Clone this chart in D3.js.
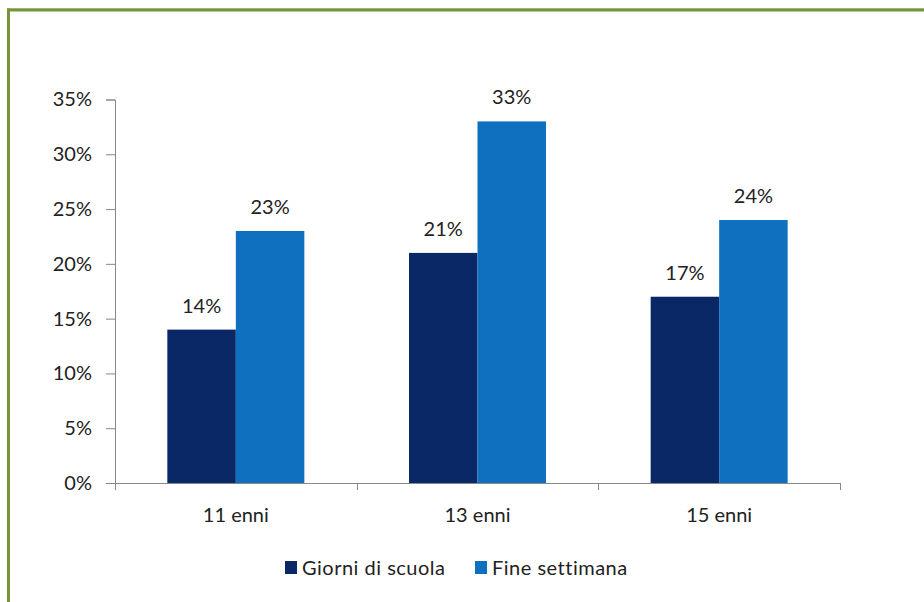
<!DOCTYPE html>
<html>
<head>
<meta charset="utf-8">
<script src="https://cdn.jsdelivr.net/npm/d3@7"></script>
<style>
  html, body { margin: 0; padding: 0; background: #fff; }
  svg { display: block; }
  text { font-family: Lato, "Open Sans", sans-serif; fill: #222; }
</style>
</head>
<body>
<svg id="chart" width="924" height="602"></svg>
<script>
const categories = ["11 enni", "13 enni", "15 enni"];
const seriesNames = ["Giorni di scuola", "Fine settimana"];
const schoolDays = [14, 21, 17];
const weekend = [23, 33, 24];
const yTicks = [0, 5, 10, 15, 20, 25, 30, 35];
const colors = ["#0b2866", "#0f70c0"];

const svg = d3.select("#chart");
const FS = "20px";

// green frame
svg.append("line").attr("x1", 7).attr("x2", 924).attr("y1", 8.5).attr("y2", 8.5)
  .attr("stroke", "#c3d1a6").attr("stroke-width", 1);
svg.append("line").attr("x1", 7).attr("x2", 924).attr("y1", 10).attr("y2", 10)
  .attr("stroke", "#77933c").attr("stroke-width", 3);
svg.append("line").attr("x1", 8.5).attr("x2", 8.5).attr("y1", 8.5).attr("y2", 602)
  .attr("stroke", "#77933c").attr("stroke-width", 3);

const mLeft = 115, mRight = 840, mTop = 99.5, mBottom = 483;

const x0 = d3.scaleBand().domain(categories).range([mLeft, mRight]).paddingInner(0).paddingOuter(0);
const x1 = d3.scaleBand().domain(seriesNames).range([0, x0.bandwidth()]).paddingInner(0).paddingOuter(0.764);
const y = d3.scaleLinear().domain([0, 35]).range([mBottom, mTop]);

const data = categories.map((c, i) => ({ cat: c, vals: [schoolDays[i], weekend[i]] }));

const g = svg.append("g");
const groups = g.selectAll("g.grp").data(data).enter().append("g")
  .attr("transform", d => `translate(${x0(d.cat)},0)`);

groups.selectAll("rect").data(d => d.vals.map((v, j) => ({ v, s: seriesNames[j], j })))
  .enter().append("rect")
  .attr("x", d => x1(d.s))
  .attr("width", x1.bandwidth())
  .attr("y", d => y(d.v))
  .attr("height", d => y(0) - y(d.v))
  .attr("fill", d => colors[d.j]);

groups.selectAll("text.lbl").data(d => d.vals.map((v, j) => ({ v, s: seriesNames[j], j })))
  .enter().append("text")
  .attr("class", "lbl")
  .attr("x", d => x1(d.s) + x1.bandwidth() / 2)
  .attr("y", d => y(d.v) - 17)
  .attr("text-anchor", "middle")
  .style("font-size", FS)
  .text(d => d.v + "%");

// y axis
const yAxis = d3.axisLeft(y).tickValues(yTicks).tickSize(9).tickPadding(14).tickFormat(d => d + "%");
const ya = svg.append("g").attr("transform", `translate(${mLeft},0)`).call(yAxis);
ya.select(".domain").attr("stroke", "#888");
ya.selectAll(".tick line").attr("stroke", "#888");
ya.selectAll(".tick text").style("font-size", FS).style("font-family", "Lato, sans-serif").attr("fill", "#222");

// x axis
const xa = svg.append("g").attr("transform", `translate(0,${mBottom})`);
xa.append("line").attr("x1", mLeft).attr("x2", mRight).attr("y1", 0.5).attr("y2", 0.5).attr("stroke", "#888");
const boundaries = categories.map(c => x0(c)).concat([x0(categories[categories.length - 1]) + x0.bandwidth()]);
xa.selectAll("line.tk").data(boundaries).enter().append("line")
  .attr("class", "tk")
  .attr("x1", d => Math.round(d) + 0.5).attr("x2", d => Math.round(d) + 0.5)
  .attr("y1", 0).attr("y2", 7).attr("stroke", "#888");
xa.selectAll("text.cat").data(categories).enter().append("text")
  .attr("class", "cat")
  .attr("x", d => x0(d) + x0.bandwidth() / 2)
  .attr("y", 39)
  .attr("text-anchor", "middle")
  .style("font-size", FS)
  .text(d => d);

// legend
const legend = svg.append("g");
const legX = [285, 475];
seriesNames.forEach((s, i) => {
  legend.append("rect").attr("x", legX[i]).attr("y", 561).attr("width", 12).attr("height", 13).attr("fill", colors[i]);
  legend.append("text").attr("x", legX[i] + 17).attr("y", 575)
    .style("font-size", FS).style("letter-spacing", "0.5px").text(s);
});
</script>
</body>
</html>
